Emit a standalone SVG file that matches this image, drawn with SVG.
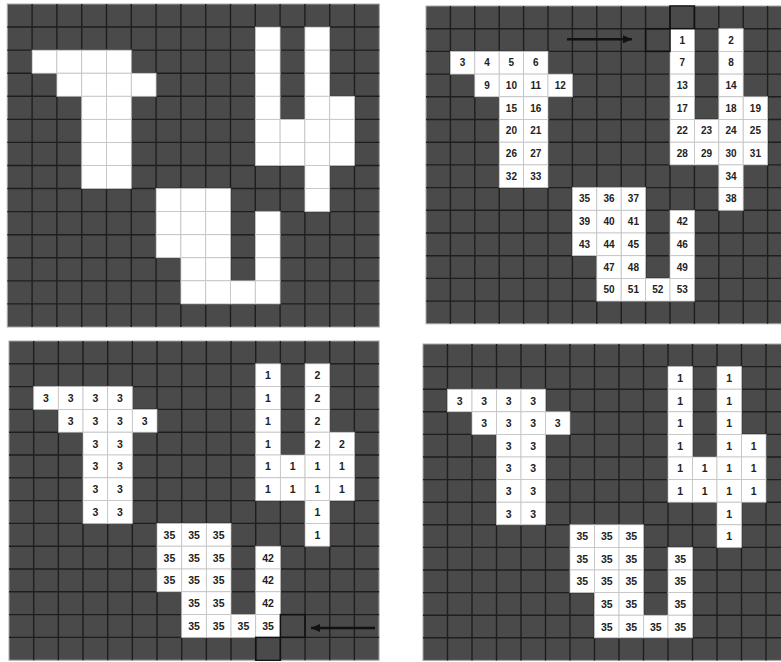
<svg xmlns="http://www.w3.org/2000/svg" xmlns:xlink="http://www.w3.org/1999/xlink" width="781" height="662" viewBox="0 0 781 662">
<style>
.bg{fill:#4a4a4a;stroke:#a8a8a8;stroke-width:1}
.gl{stroke:#1e1e1e;stroke-width:1.4;fill:none}
.w{fill:#ffffff;stroke:#c4c4c4;stroke-width:0.8}
.hl{fill:none;stroke:#111111;stroke-width:1.5}
.ar{stroke:#111111;stroke-width:2.6;fill:none}
text{font-family:"Liberation Sans",Arial,sans-serif;font-size:10px;font-weight:bold;fill:#222222;text-anchor:middle;dominant-baseline:central}
.big text{font-size:10.5px}
</style>
<defs>
<rect id="a" class="w" width="24.8" height="23.07"/>
<rect id="b" class="w" width="24.4" height="22.7"/>
<rect id="c" class="w" width="24.67" height="22.8"/>
<rect id="d" class="w" width="24.5" height="22.6"/>
<marker id="ah" markerUnits="userSpaceOnUse" markerWidth="9" markerHeight="8" refX="9" refY="4" orient="auto"><path d="M0,0 L9,4 L0,8 z" fill="#111111"/></marker>
</defs>

<g id="panel1">
<rect class="bg" x="7.3" y="4" width="372" height="323"/>
<path class="gl" d="M32.1 4V327M56.9 4V327M81.7 4V327M106.5 4V327M131.3 4V327M156.1 4V327M180.9 4V327M205.7 4V327M230.5 4V327M255.3 4V327M280.1 4V327M304.9 4V327M329.7 4V327M354.5 4V327M7.3 27.07H379.3M7.3 50.14H379.3M7.3 73.21H379.3M7.3 96.28H379.3M7.3 119.35H379.3M7.3 142.42H379.3M7.3 165.49H379.3M7.3 188.56H379.3M7.3 211.63H379.3M7.3 234.7H379.3M7.3 257.77H379.3M7.3 280.84H379.3M7.3 303.91H379.3"/>
<use href="#a" x="255.3" y="27.07"/><use href="#a" x="304.9" y="27.07"/>
<use href="#a" x="32.1" y="50.14"/><use href="#a" x="56.9" y="50.14"/><use href="#a" x="81.7" y="50.14"/><use href="#a" x="106.5" y="50.14"/><use href="#a" x="255.3" y="50.14"/><use href="#a" x="304.9" y="50.14"/>
<use href="#a" x="56.9" y="73.21"/><use href="#a" x="81.7" y="73.21"/><use href="#a" x="106.5" y="73.21"/><use href="#a" x="131.3" y="73.21"/><use href="#a" x="255.3" y="73.21"/><use href="#a" x="304.9" y="73.21"/>
<use href="#a" x="81.7" y="96.28"/><use href="#a" x="106.5" y="96.28"/><use href="#a" x="255.3" y="96.28"/><use href="#a" x="304.9" y="96.28"/><use href="#a" x="329.7" y="96.28"/>
<use href="#a" x="81.7" y="119.35"/><use href="#a" x="106.5" y="119.35"/><use href="#a" x="255.3" y="119.35"/><use href="#a" x="280.1" y="119.35"/><use href="#a" x="304.9" y="119.35"/><use href="#a" x="329.7" y="119.35"/>
<use href="#a" x="81.7" y="142.42"/><use href="#a" x="106.5" y="142.42"/><use href="#a" x="255.3" y="142.42"/><use href="#a" x="280.1" y="142.42"/><use href="#a" x="304.9" y="142.42"/><use href="#a" x="329.7" y="142.42"/>
<use href="#a" x="81.7" y="165.49"/><use href="#a" x="106.5" y="165.49"/><use href="#a" x="304.9" y="165.49"/>
<use href="#a" x="156.1" y="188.56"/><use href="#a" x="180.9" y="188.56"/><use href="#a" x="205.7" y="188.56"/><use href="#a" x="304.9" y="188.56"/>
<use href="#a" x="156.1" y="211.63"/><use href="#a" x="180.9" y="211.63"/><use href="#a" x="205.7" y="211.63"/><use href="#a" x="255.3" y="211.63"/>
<use href="#a" x="156.1" y="234.7"/><use href="#a" x="180.9" y="234.7"/><use href="#a" x="205.7" y="234.7"/><use href="#a" x="255.3" y="234.7"/>
<use href="#a" x="180.9" y="257.77"/><use href="#a" x="205.7" y="257.77"/><use href="#a" x="255.3" y="257.77"/>
<use href="#a" x="180.9" y="280.84"/><use href="#a" x="205.7" y="280.84"/><use href="#a" x="230.5" y="280.84"/><use href="#a" x="255.3" y="280.84"/>
</g>

<g id="panel2">
<rect class="bg" x="426" y="6" width="366" height="317.8"/>
<path class="gl" d="M450.4 6V323.8M474.8 6V323.8M499.2 6V323.8M523.6 6V323.8M548 6V323.8M572.4 6V323.8M596.8 6V323.8M621.2 6V323.8M645.6 6V323.8M670 6V323.8M694.4 6V323.8M718.8 6V323.8M743.2 6V323.8M767.6 6V323.8M426 28.7H792M426 51.4H792M426 74.1H792M426 96.8H792M426 119.5H792M426 142.2H792M426 164.9H792M426 187.6H792M426 210.3H792M426 233H792M426 255.7H792M426 278.4H792M426 301.1H792"/>
<use href="#b" x="670" y="28.7"/><use href="#b" x="718.8" y="28.7"/>
<use href="#b" x="450.4" y="51.4"/><use href="#b" x="474.8" y="51.4"/><use href="#b" x="499.2" y="51.4"/><use href="#b" x="523.6" y="51.4"/><use href="#b" x="670" y="51.4"/><use href="#b" x="718.8" y="51.4"/>
<use href="#b" x="474.8" y="74.1"/><use href="#b" x="499.2" y="74.1"/><use href="#b" x="523.6" y="74.1"/><use href="#b" x="548" y="74.1"/><use href="#b" x="670" y="74.1"/><use href="#b" x="718.8" y="74.1"/>
<use href="#b" x="499.2" y="96.8"/><use href="#b" x="523.6" y="96.8"/><use href="#b" x="670" y="96.8"/><use href="#b" x="718.8" y="96.8"/><use href="#b" x="743.2" y="96.8"/>
<use href="#b" x="499.2" y="119.5"/><use href="#b" x="523.6" y="119.5"/><use href="#b" x="670" y="119.5"/><use href="#b" x="694.4" y="119.5"/><use href="#b" x="718.8" y="119.5"/><use href="#b" x="743.2" y="119.5"/>
<use href="#b" x="499.2" y="142.2"/><use href="#b" x="523.6" y="142.2"/><use href="#b" x="670" y="142.2"/><use href="#b" x="694.4" y="142.2"/><use href="#b" x="718.8" y="142.2"/><use href="#b" x="743.2" y="142.2"/>
<use href="#b" x="499.2" y="164.9"/><use href="#b" x="523.6" y="164.9"/><use href="#b" x="718.8" y="164.9"/>
<use href="#b" x="572.4" y="187.6"/><use href="#b" x="596.8" y="187.6"/><use href="#b" x="621.2" y="187.6"/><use href="#b" x="718.8" y="187.6"/>
<use href="#b" x="572.4" y="210.3"/><use href="#b" x="596.8" y="210.3"/><use href="#b" x="621.2" y="210.3"/><use href="#b" x="670" y="210.3"/>
<use href="#b" x="572.4" y="233"/><use href="#b" x="596.8" y="233"/><use href="#b" x="621.2" y="233"/><use href="#b" x="670" y="233"/>
<use href="#b" x="596.8" y="255.7"/><use href="#b" x="621.2" y="255.7"/><use href="#b" x="670" y="255.7"/>
<use href="#b" x="596.8" y="278.4"/><use href="#b" x="621.2" y="278.4"/><use href="#b" x="645.6" y="278.4"/><use href="#b" x="670" y="278.4"/>
<rect class="hl" x="670" y="6" width="24.4" height="22.7"/>
<rect class="hl" x="645.6" y="28.7" width="24.4" height="22.7"/>
<text x="682.2" y="40.05">1</text><text x="731" y="40.05">2</text>
<text x="462.6" y="62.75">3</text><text x="487" y="62.75">4</text><text x="511.4" y="62.75">5</text><text x="535.8" y="62.75">6</text><text x="682.2" y="62.75">7</text><text x="731" y="62.75">8</text>
<text x="487" y="85.45">9</text><text x="511.4" y="85.45">10</text><text x="535.8" y="85.45">11</text><text x="560.2" y="85.45">12</text><text x="682.2" y="85.45">13</text><text x="731" y="85.45">14</text>
<text x="511.4" y="108.15">15</text><text x="535.8" y="108.15">16</text><text x="682.2" y="108.15">17</text><text x="731" y="108.15">18</text><text x="755.4" y="108.15">19</text>
<text x="511.4" y="130.85">20</text><text x="535.8" y="130.85">21</text><text x="682.2" y="130.85">22</text><text x="706.6" y="130.85">23</text><text x="731" y="130.85">24</text><text x="755.4" y="130.85">25</text>
<text x="511.4" y="153.55">26</text><text x="535.8" y="153.55">27</text><text x="682.2" y="153.55">28</text><text x="706.6" y="153.55">29</text><text x="731" y="153.55">30</text><text x="755.4" y="153.55">31</text>
<text x="511.4" y="176.25">32</text><text x="535.8" y="176.25">33</text><text x="731" y="176.25">34</text>
<text x="584.6" y="198.95">35</text><text x="609" y="198.95">36</text><text x="633.4" y="198.95">37</text><text x="731" y="198.95">38</text>
<text x="584.6" y="221.65">39</text><text x="609" y="221.65">40</text><text x="633.4" y="221.65">41</text><text x="682.2" y="221.65">42</text>
<text x="584.6" y="244.35">43</text><text x="609" y="244.35">44</text><text x="633.4" y="244.35">45</text><text x="682.2" y="244.35">46</text>
<text x="609" y="267.05">47</text><text x="633.4" y="267.05">48</text><text x="682.2" y="267.05">49</text>
<text x="609" y="289.75">50</text><text x="633.4" y="289.75">51</text><text x="657.8" y="289.75">52</text><text x="682.2" y="289.75">53</text>
</g>

<g id="panel3" class="big">
<rect class="bg" x="9" y="341" width="370.05" height="319.2"/>
<path class="gl" d="M33.67 341V660.2M58.34 341V660.2M83.01 341V660.2M107.68 341V660.2M132.35 341V660.2M157.02 341V660.2M181.69 341V660.2M206.36 341V660.2M231.03 341V660.2M255.7 341V660.2M280.37 341V660.2M305.04 341V660.2M329.71 341V660.2M354.38 341V660.2M9 363.8H379.05M9 386.6H379.05M9 409.4H379.05M9 432.2H379.05M9 455H379.05M9 477.8H379.05M9 500.6H379.05M9 523.4H379.05M9 546.2H379.05M9 569H379.05M9 591.8H379.05M9 614.6H379.05M9 637.4H379.05"/>
<use href="#c" x="255.7" y="363.8"/><use href="#c" x="305.04" y="363.8"/>
<use href="#c" x="33.67" y="386.6"/><use href="#c" x="58.34" y="386.6"/><use href="#c" x="83.01" y="386.6"/><use href="#c" x="107.68" y="386.6"/><use href="#c" x="255.7" y="386.6"/><use href="#c" x="305.04" y="386.6"/>
<use href="#c" x="58.34" y="409.4"/><use href="#c" x="83.01" y="409.4"/><use href="#c" x="107.68" y="409.4"/><use href="#c" x="132.35" y="409.4"/><use href="#c" x="255.7" y="409.4"/><use href="#c" x="305.04" y="409.4"/>
<use href="#c" x="83.01" y="432.2"/><use href="#c" x="107.68" y="432.2"/><use href="#c" x="255.7" y="432.2"/><use href="#c" x="305.04" y="432.2"/><use href="#c" x="329.71" y="432.2"/>
<use href="#c" x="83.01" y="455"/><use href="#c" x="107.68" y="455"/><use href="#c" x="255.7" y="455"/><use href="#c" x="280.37" y="455"/><use href="#c" x="305.04" y="455"/><use href="#c" x="329.71" y="455"/>
<use href="#c" x="83.01" y="477.8"/><use href="#c" x="107.68" y="477.8"/><use href="#c" x="255.7" y="477.8"/><use href="#c" x="280.37" y="477.8"/><use href="#c" x="305.04" y="477.8"/><use href="#c" x="329.71" y="477.8"/>
<use href="#c" x="83.01" y="500.6"/><use href="#c" x="107.68" y="500.6"/><use href="#c" x="305.04" y="500.6"/>
<use href="#c" x="157.02" y="523.4"/><use href="#c" x="181.69" y="523.4"/><use href="#c" x="206.36" y="523.4"/><use href="#c" x="305.04" y="523.4"/>
<use href="#c" x="157.02" y="546.2"/><use href="#c" x="181.69" y="546.2"/><use href="#c" x="206.36" y="546.2"/><use href="#c" x="255.7" y="546.2"/>
<use href="#c" x="157.02" y="569"/><use href="#c" x="181.69" y="569"/><use href="#c" x="206.36" y="569"/><use href="#c" x="255.7" y="569"/>
<use href="#c" x="181.69" y="591.8"/><use href="#c" x="206.36" y="591.8"/><use href="#c" x="255.7" y="591.8"/>
<use href="#c" x="181.69" y="614.6"/><use href="#c" x="206.36" y="614.6"/><use href="#c" x="231.03" y="614.6"/><use href="#c" x="255.7" y="614.6"/>
<rect class="hl" x="280.37" y="614.6" width="24.67" height="22.8"/>
<rect class="hl" x="255.7" y="637.4" width="24.67" height="22.8"/>
<text x="268" y="375.2">1</text><text x="317.4" y="375.2">2</text>
<text x="46" y="398">3</text><text x="70.7" y="398">3</text><text x="95.3" y="398">3</text><text x="120" y="398">3</text><text x="268" y="398">1</text><text x="317.4" y="398">2</text>
<text x="70.7" y="420.8">3</text><text x="95.3" y="420.8">3</text><text x="120" y="420.8">3</text><text x="144.7" y="420.8">3</text><text x="268" y="420.8">1</text><text x="317.4" y="420.8">2</text>
<text x="95.3" y="443.6">3</text><text x="120" y="443.6">3</text><text x="268" y="443.6">1</text><text x="317.4" y="443.6">2</text><text x="342" y="443.6">2</text>
<text x="95.3" y="466.4">3</text><text x="120" y="466.4">3</text><text x="268" y="466.4">1</text><text x="292.7" y="466.4">1</text><text x="317.4" y="466.4">1</text><text x="342" y="466.4">1</text>
<text x="95.3" y="489.2">3</text><text x="120" y="489.2">3</text><text x="268" y="489.2">1</text><text x="292.7" y="489.2">1</text><text x="317.4" y="489.2">1</text><text x="342" y="489.2">1</text>
<text x="95.3" y="512">3</text><text x="120" y="512">3</text><text x="317.4" y="512">1</text>
<text x="169.4" y="534.8">35</text><text x="194" y="534.8">35</text><text x="218.7" y="534.8">35</text><text x="317.4" y="534.8">1</text>
<text x="169.4" y="557.6">35</text><text x="194" y="557.6">35</text><text x="218.7" y="557.6">35</text><text x="268" y="557.6">42</text>
<text x="169.4" y="580.4">35</text><text x="194" y="580.4">35</text><text x="218.7" y="580.4">35</text><text x="268" y="580.4">42</text>
<text x="194" y="603.2">35</text><text x="218.7" y="603.2">35</text><text x="268" y="603.2">42</text>
<text x="194" y="626">35</text><text x="218.7" y="626">35</text><text x="243.4" y="626">35</text><text x="268" y="626">35</text>
</g>

<g id="panel4" class="big">
<rect class="bg" x="423" y="344" width="367.5" height="316.4"/>
<path class="gl" d="M447.5 344V660.4M472 344V660.4M496.5 344V660.4M521 344V660.4M545.5 344V660.4M570 344V660.4M594.5 344V660.4M619 344V660.4M643.5 344V660.4M668 344V660.4M692.5 344V660.4M717 344V660.4M741.5 344V660.4M766 344V660.4M423 366.6H790.5M423 389.2H790.5M423 411.8H790.5M423 434.4H790.5M423 457H790.5M423 479.6H790.5M423 502.2H790.5M423 524.8H790.5M423 547.4H790.5M423 570H790.5M423 592.6H790.5M423 615.2H790.5M423 637.8H790.5"/>
<use href="#d" x="668" y="366.6"/><use href="#d" x="717" y="366.6"/>
<use href="#d" x="447.5" y="389.2"/><use href="#d" x="472" y="389.2"/><use href="#d" x="496.5" y="389.2"/><use href="#d" x="521" y="389.2"/><use href="#d" x="668" y="389.2"/><use href="#d" x="717" y="389.2"/>
<use href="#d" x="472" y="411.8"/><use href="#d" x="496.5" y="411.8"/><use href="#d" x="521" y="411.8"/><use href="#d" x="545.5" y="411.8"/><use href="#d" x="668" y="411.8"/><use href="#d" x="717" y="411.8"/>
<use href="#d" x="496.5" y="434.4"/><use href="#d" x="521" y="434.4"/><use href="#d" x="668" y="434.4"/><use href="#d" x="717" y="434.4"/><use href="#d" x="741.5" y="434.4"/>
<use href="#d" x="496.5" y="457"/><use href="#d" x="521" y="457"/><use href="#d" x="668" y="457"/><use href="#d" x="692.5" y="457"/><use href="#d" x="717" y="457"/><use href="#d" x="741.5" y="457"/>
<use href="#d" x="496.5" y="479.6"/><use href="#d" x="521" y="479.6"/><use href="#d" x="668" y="479.6"/><use href="#d" x="692.5" y="479.6"/><use href="#d" x="717" y="479.6"/><use href="#d" x="741.5" y="479.6"/>
<use href="#d" x="496.5" y="502.2"/><use href="#d" x="521" y="502.2"/><use href="#d" x="717" y="502.2"/>
<use href="#d" x="570" y="524.8"/><use href="#d" x="594.5" y="524.8"/><use href="#d" x="619" y="524.8"/><use href="#d" x="717" y="524.8"/>
<use href="#d" x="570" y="547.4"/><use href="#d" x="594.5" y="547.4"/><use href="#d" x="619" y="547.4"/><use href="#d" x="668" y="547.4"/>
<use href="#d" x="570" y="570"/><use href="#d" x="594.5" y="570"/><use href="#d" x="619" y="570"/><use href="#d" x="668" y="570"/>
<use href="#d" x="594.5" y="592.6"/><use href="#d" x="619" y="592.6"/><use href="#d" x="668" y="592.6"/>
<use href="#d" x="594.5" y="615.2"/><use href="#d" x="619" y="615.2"/><use href="#d" x="643.5" y="615.2"/><use href="#d" x="668" y="615.2"/>
<text x="680.25" y="377.9">1</text><text x="729.25" y="377.9">1</text>
<text x="459.75" y="400.5">3</text><text x="484.25" y="400.5">3</text><text x="508.75" y="400.5">3</text><text x="533.25" y="400.5">3</text><text x="680.25" y="400.5">1</text><text x="729.25" y="400.5">1</text>
<text x="484.25" y="423.1">3</text><text x="508.75" y="423.1">3</text><text x="533.25" y="423.1">3</text><text x="557.75" y="423.1">3</text><text x="680.25" y="423.1">1</text><text x="729.25" y="423.1">1</text>
<text x="508.75" y="445.7">3</text><text x="533.25" y="445.7">3</text><text x="680.25" y="445.7">1</text><text x="729.25" y="445.7">1</text><text x="753.75" y="445.7">1</text>
<text x="508.75" y="468.3">3</text><text x="533.25" y="468.3">3</text><text x="680.25" y="468.3">1</text><text x="704.75" y="468.3">1</text><text x="729.25" y="468.3">1</text><text x="753.75" y="468.3">1</text>
<text x="508.75" y="490.9">3</text><text x="533.25" y="490.9">3</text><text x="680.25" y="490.9">1</text><text x="704.75" y="490.9">1</text><text x="729.25" y="490.9">1</text><text x="753.75" y="490.9">1</text>
<text x="508.75" y="513.5">3</text><text x="533.25" y="513.5">3</text><text x="729.25" y="513.5">1</text>
<text x="582.25" y="536.1">35</text><text x="606.75" y="536.1">35</text><text x="631.25" y="536.1">35</text><text x="729.25" y="536.1">1</text>
<text x="582.25" y="558.7">35</text><text x="606.75" y="558.7">35</text><text x="631.25" y="558.7">35</text><text x="680.25" y="558.7">35</text>
<text x="582.25" y="581.3">35</text><text x="606.75" y="581.3">35</text><text x="631.25" y="581.3">35</text><text x="680.25" y="581.3">35</text>
<text x="606.75" y="603.9">35</text><text x="631.25" y="603.9">35</text><text x="680.25" y="603.9">35</text>
<text x="606.75" y="626.5">35</text><text x="631.25" y="626.5">35</text><text x="655.75" y="626.5">35</text><text x="680.25" y="626.5">35</text>
</g>

<g id="connectors">
<path class="ar" d="M567 39.3H632" marker-end="url(#ah)"/>
<path class="ar" d="M375 628H311" marker-end="url(#ah)"/>
</g>
</svg>
